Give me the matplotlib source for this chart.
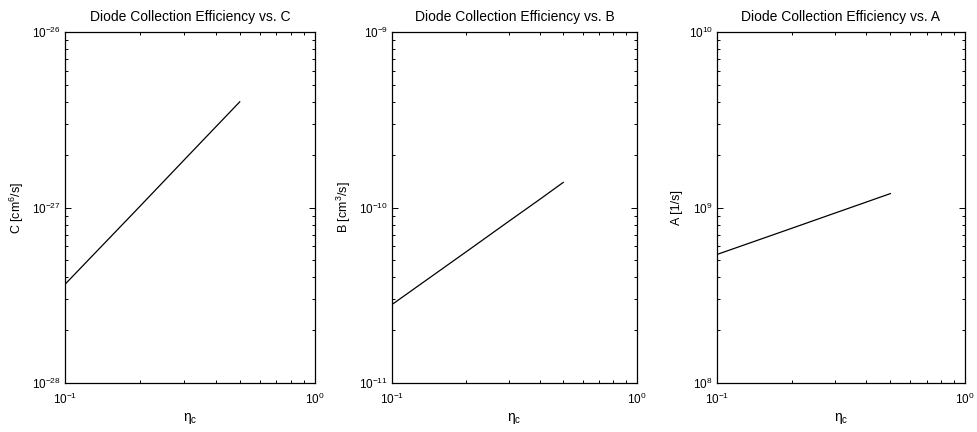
import numpy as np
import matplotlib
matplotlib.use("Agg")
import matplotlib.pyplot as plt
from matplotlib.ticker import FixedLocator, NullFormatter

plt.rcParams['font.family'] = ['Liberation Sans', 'DejaVu Sans']
plt.rcParams['mathtext.fontset'] = 'custom'
plt.rcParams['mathtext.rm'] = 'Liberation Sans'
plt.rcParams['mathtext.it'] = 'Liberation Sans:italic'
plt.rcParams['font.size'] = 8.5

# collection efficiency and recombination coefficients
eta_c = [0.1, 0.2, 0.3, 0.4, 0.5]
coef_C = [3.65e-28, 1.02e-27, 1.87e-27, 2.87e-27, 4.0e-27]
coef_B = [2.8e-11, 5.57e-11, 8.35e-11, 1.11e-10, 1.39e-10]
coef_A = [5.4e8, 7.61e8, 9.31e8, 1.074e9, 1.2e9]

titles = ['Diode Collection Efficiency vs. C',
          'Diode Collection Efficiency vs. B',
          'Diode Collection Efficiency vs. A']
ylabels = ['C [cm$^6$/s]', 'B [cm$^3$/s]', 'A [1/s]']
ydecades = [(-28, -26), (-11, -9), (8, 10)]
series = [coef_C, coef_B, coef_A]


def decade_ticks(lo, hi):
    major = [10.0 ** k for k in range(lo, hi + 1)]
    minor = [m * 10.0 ** k for k in range(lo, hi) for m in range(2, 10)]
    labels = ['$10^{%d}$' % k for k in range(lo, hi + 1)]
    return major, minor, labels


fig = plt.figure(figsize=(9.78, 4.32), dpi=100)
W, H = 978.0, 432.0
boxes = [(65, 315), (392, 637), (717, 965)]
top, bottom = 32, 383

for (x0, x1), y, title, ylab, (lo, hi) in zip(boxes, series, titles, ylabels, ydecades):
    ax = fig.add_axes([x0 / W, 1 - bottom / H, (x1 - x0) / W, (bottom - top) / H])
    ax.loglog(eta_c, y, color='black', lw=0.9)
    ax.set_xlim(0.1, 1)
    ax.set_ylim(10.0 ** lo, 10.0 ** hi)

    xmaj, xmin, xlab = decade_ticks(-1, 0)
    ymaj, ymin, ylabs = decade_ticks(lo, hi)
    ax.xaxis.set_major_locator(FixedLocator(xmaj))
    ax.xaxis.set_minor_locator(FixedLocator(xmin))
    ax.set_xticklabels(xlab)
    ax.yaxis.set_major_locator(FixedLocator(ymaj))
    ax.yaxis.set_minor_locator(FixedLocator(ymin))
    ax.set_yticklabels(ylabs)
    ax.xaxis.set_minor_formatter(NullFormatter())
    ax.yaxis.set_minor_formatter(NullFormatter())

    ax.tick_params(which='both', direction='in', top=True, right=True, width=0.7)
    ax.tick_params(which='major', length=4, labelsize=8.5)
    ax.tick_params(axis='x', which='major', pad=6)
    ax.tick_params(axis='y', which='major', pad=3)
    ax.tick_params(which='minor', length=2)
    for s in ax.spines.values():
        s.set_linewidth(0.9)
    ax.set_title(title, fontsize=10, pad=8)
    ax.set_ylabel(ylab, fontsize=9, labelpad=4)
    ax.set_xlabel(r'$\mathrm{\eta}_\mathrm{c}$', fontsize=10, labelpad=3)

fig.savefig('out.png', dpi=100)
